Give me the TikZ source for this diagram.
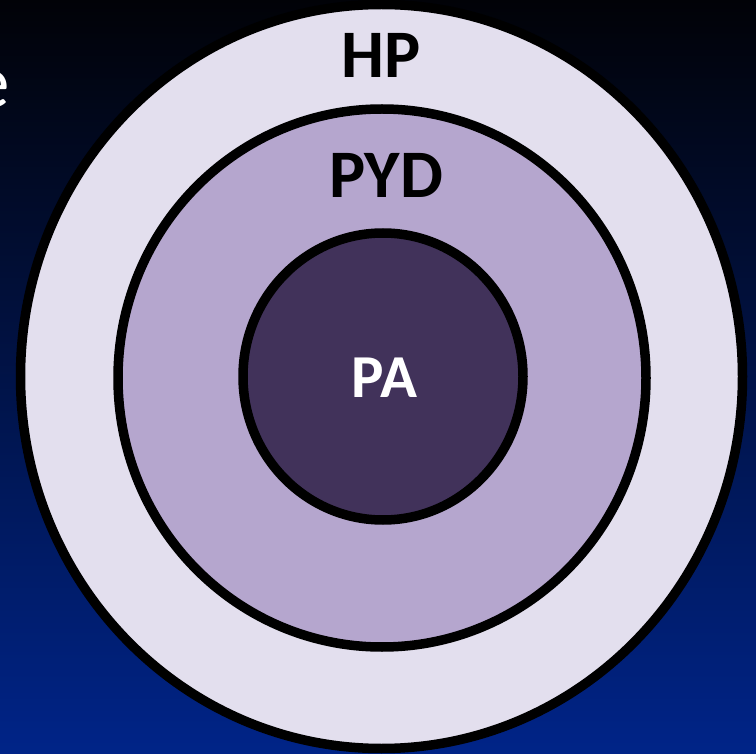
\documentclass[tikz,border=0pt]{standalone}
\usepackage{fontspec}
\setmainfont{Carlito}
\usetikzlibrary{shapes.geometric}
\definecolor{bgtop}{RGB}{1,2,7}
\definecolor{bgbot}{RGB}{0,36,136}
\definecolor{ringout}{RGB}{227,223,238}
\definecolor{ringmid}{RGB}{181,166,206}
\definecolor{ringin}{RGB}{65,50,90}
\tikzset{
  ring/.style={ellipse, draw=black, line width=9.5pt, inner sep=0pt},
  lab/.style={anchor=base, inner sep=0pt, font=\fontsize{68}{68}\selectfont\bfseries, text=black},
}
\begin{document}
\begin{tikzpicture}[x=1pt,y=-1pt]
\useasboundingbox (0,0) rectangle (756,754);
\clip (0,0) rectangle (756,754);
\shade[top color=bgtop, bottom color=bgbot] (0,0) rectangle (756,754);
\node[anchor=base east, inner sep=0pt, text=white, font=\fontsize{75}{75}\selectfont] (e) at (10,108) {e};
\node[ring, fill=ringout, minimum width=722pt, minimum height=744pt] (hp) at (381.5,376.5) {};
\node[ring, fill=ringmid, minimum width=528pt, minimum height=538pt] (pyd) at (382,378) {};
\node[ring, fill=ringin, minimum width=280pt, minimum height=287pt] (pa) at (383,376.5) {};
\node[lab] (hpl) at (381,78) {HP};
\node[lab] (pydl) at (386,198) {PYD};
\node[lab, font=\fontsize{61}{61}\selectfont\bfseries, text=white] (pal) at (384.5,398) {PA};
\end{tikzpicture}
\end{document}
